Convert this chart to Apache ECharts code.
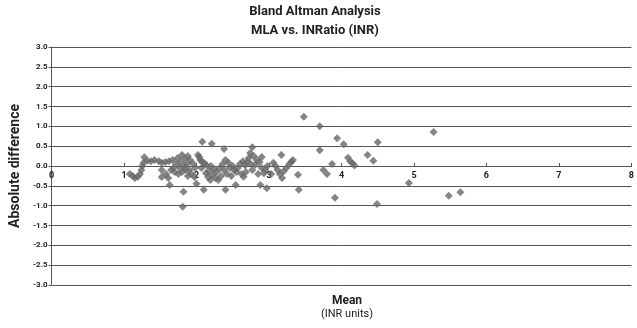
<!DOCTYPE html>
<html>
<head>
<meta charset="utf-8">
<script src="https://cdn.jsdelivr.net/npm/echarts@6/dist/echarts.min.js"></script>
<style>html,body{margin:0;padding:0;background:#fff;}#c{width:637px;height:328px;}</style>
</head>
<body>
<div id="c"></div>
<script>
var xTicks = [0,1,2,3,4,5,6,7,8];
var yTicks = [-3.0,-2.5,-2.0,-1.5,-1.0,-0.5,0.0,0.5,1.0,1.5,2.0,2.5,3.0];
var meanValues = [
 1.08,1.12,1.15,1.19,1.22,1.24,1.25,1.27,1.28,1.32,1.37,1.42,1.48,
 1.52,1.52,1.52,1.57,1.58,1.61,1.62,1.63,1.65,1.67,1.68,1.70,1.72,1.74,1.75,1.77,1.78,1.80,1.80,1.82,1.81,1.83,1.84,1.85,1.87,1.88,1.88,1.90,1.91,1.93,1.95,1.97,1.98,2.00,
 2.02,2.04,2.05,2.08,2.07,2.08,2.10,2.11,2.13,2.14,2.16,2.17,2.19,2.20,2.21,2.22,2.24,2.26,2.28,2.30,2.32,2.34,2.36,2.38,2.38,2.40,2.40,2.42,2.44,2.46,2.48,2.50,
 2.52,2.54,2.55,2.57,2.60,2.62,2.64,2.65,2.67,2.68,2.70,2.72,2.74,2.75,2.77,2.77,2.79,2.81,2.83,2.85,2.87,2.88,2.90,2.90,2.93,2.95,2.97,2.98,
 3.03,3.06,3.09,3.12,3.15,3.17,3.18,3.20,3.24,3.28,3.31,3.33,3.40,3.41,3.48,
 3.70,3.70,3.75,3.80,3.87,3.91,3.94,4.03,4.09,4.12,4.15,4.18,4.36,4.44,4.49,4.50,4.93,5.27,5.48,5.64
];
var diffValues = [
 -0.20,-0.25,-0.30,-0.27,-0.20,-0.10,0.00,0.08,0.22,0.13,0.12,0.15,0.12,
 0.08,-0.10,-0.28,0.10,-0.20,-0.30,0.12,-0.48,-0.10,0.15,-0.05,-0.15,0.05,0.20,-0.20,-0.05,0.10,0.28,-0.15,-0.65,-1.03,0.00,0.18,-0.10,0.05,-0.25,0.25,-0.10,0.15,-0.20,0.07,-0.28,-0.05,-0.45,
 0.28,0.22,0.15,0.61,-0.05,0.10,-0.60,0.07,-0.18,0.02,-0.28,-0.12,-0.35,0.00,0.56,-0.22,-0.08,-0.30,-0.15,-0.35,-0.05,-0.25,0.05,0.43,-0.10,-0.60,0.15,-0.20,0.08,-0.05,-0.25,0.00,
 -0.10,-0.48,-0.15,-0.05,0.05,-0.20,0.12,-0.27,0.02,-0.15,0.11,0.20,0.33,0.05,0.47,-0.10,0.25,0.03,0.15,-0.20,0.10,-0.48,0.23,-0.05,-0.18,-0.10,-0.56,0.00,
 -0.20,0.08,0.00,-0.10,-0.20,0.28,-0.30,-0.14,-0.05,0.05,0.11,0.15,-0.22,-0.60,1.24,
 1.00,0.40,-0.10,-0.20,0.05,-0.80,0.70,0.55,0.21,0.12,0.07,0.01,0.28,0.13,-0.96,0.60,-0.43,0.86,-0.75,-0.66
];
var points = meanValues.map(function(m,i){return [m, diffValues[i]];});
var FONT = 'Roboto';
var chart = echarts.init(document.getElementById('c'), null, {renderer:'canvas'});
chart.setOption({
  animation:false,
  backgroundColor:'#fff',
  textStyle:{fontFamily:FONT},
  title:[
    {text:'Bland Altman Analysis\nMLA vs. INRatio (INR)', left:310, top:-3, textAlign:'center',
     textStyle:{fontFamily:FONT, fontSize:13, fontWeight:'bold', color:'#222', lineHeight:19}},
    {text:'Mean', subtext:'(INR units)', left:342, top:290, textAlign:'center', itemGap:2,
     textStyle:{fontFamily:FONT, fontSize:12, fontWeight:'bold', color:'#222'},
     subtextStyle:{fontFamily:FONT, fontSize:11, color:'#222'}}
  ],
  grid:{left:48, right:0, top:47, bottom:43, containLabel:false},
  xAxis:{type:'value', min:xTicks[0], max:xTicks[xTicks.length-1], interval:1,
    position:'bottom', offset:-119,
    axisLine:{show:true, onZero:false, lineStyle:{color:'#555', width:1}},
    axisTick:{show:true, inside:true, length:3, lineStyle:{color:'#555'}},
    axisLabel:{fontFamily:FONT, fontSize:9, fontWeight:'bold', color:'#222', margin:5},
    splitLine:{show:false}},
  yAxis:{type:'value', min:yTicks[0], max:yTicks[yTicks.length-1], interval:0.5,
    name:'Absolute difference', nameLocation:'middle', nameGap:21,
    nameTextStyle:{fontFamily:FONT, fontSize:14, fontWeight:'bold', color:'#222'},
    axisLine:{show:true, lineStyle:{color:'#555'}},
    axisTick:{show:true, length:3, lineStyle:{color:'#555'}},
    axisLabel:{fontFamily:FONT, fontSize:8, fontWeight:'bold', color:'#222', margin:4,
      formatter:function(v){return v.toFixed(1);}},
    splitLine:{show:true, lineStyle:{color:'#555', width:1}}},
  series:[{type:'scatter', data:points, symbol:'diamond', symbolSize:[8,8],
    itemStyle:{color:'#666666'}}]
});
</script>
</body>
</html>
